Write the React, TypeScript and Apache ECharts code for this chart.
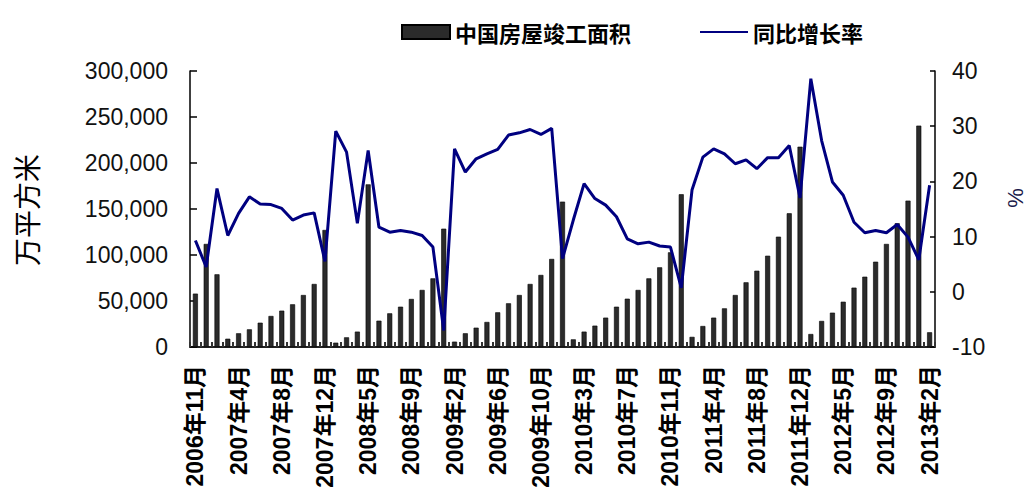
import React, { useEffect, useRef } from 'react';
import * as echarts from 'echarts';

const categories = [
  '2006年11月', '2006年12月',
  '2007年2月', '2007年3月', '2007年4月', '2007年5月', '2007年6月', '2007年7月', '2007年8月', '2007年9月', '2007年10月', '2007年11月', '2007年12月',
  '2008年2月', '2008年3月', '2008年4月', '2008年5月', '2008年6月', '2008年7月', '2008年8月', '2008年9月', '2008年10月', '2008年11月', '2008年12月',
  '2009年2月', '2009年3月', '2009年4月', '2009年5月', '2009年6月', '2009年7月', '2009年8月', '2009年9月', '2009年10月', '2009年11月', '2009年12月',
  '2010年2月', '2010年3月', '2010年4月', '2010年5月', '2010年6月', '2010年7月', '2010年8月', '2010年9月', '2010年10月', '2010年11月', '2010年12月',
  '2011年2月', '2011年3月', '2011年4月', '2011年5月', '2011年6月', '2011年7月', '2011年8月', '2011年9月', '2011年10月', '2011年11月', '2011年12月',
  '2012年2月', '2012年3月', '2012年4月', '2012年5月', '2012年6月', '2012年7月', '2012年8月', '2012年9月', '2012年10月', '2012年11月', '2012年12月',
  '2013年2月',
];

// 中国房屋竣工面积 (万平方米)
const area = [
  58000, 112000,
  79000, 9000, 14900, 19200, 26400, 33700, 39500, 46400, 56500, 68500, 127200,
  4700, 10500, 16700, 176800, 28600, 36600, 43800, 52200, 62000, 74600, 128600,
  5800, 14900, 21000, 27200, 37700, 47500, 56500, 68500, 78300, 95700, 158000,
  8300, 16700, 23200, 31900, 43800, 52500, 62000, 74600, 86600, 102900, 166000,
  11000, 22800, 31900, 42000, 56500, 70300, 82900, 99200, 119900, 145300, 217700,
  14100, 28300, 37300, 49200, 64500, 76400, 92700, 112000, 134500, 159100, 240600,
  16000,
];

// 同比增长率 (%)
const growth = [
  9.3, 4.5,
  18.7, 10.2, 14.2, 17.2, 15.9, 15.8, 15.1, 13.0, 13.9, 14.3, 5.5,
  29.1, 25.3, 12.4, 25.6, 11.7, 10.8, 11.1, 10.8, 10.2, 8.1, -7.0,
  25.9, 21.7, 24.1, 25.0, 25.8, 28.4, 28.8, 29.4, 28.5, 29.6, 6.0,
  13.0, 19.6, 16.9, 15.7, 13.6, 9.6, 8.7, 9.0, 8.3, 8.1, 0.7,
  18.5, 24.4, 25.9, 25.0, 23.2, 23.9, 22.3, 24.3, 24.3, 26.5, 17.0,
  38.6, 27.4, 19.9, 17.5, 12.6, 10.7, 11.1, 10.7, 12.2, 9.9, 5.8,
  19.3,
];

const leftTicks = { min: 0, max: 300000, interval: 50000 };
const rightTicks = { min: -10, max: 40, interval: 10 };

export default function App() {
  const ref = useRef<HTMLDivElement>(null);
  useEffect(() => {
    document.body.style.margin = '0';
    const chart = echarts.init(ref.current as HTMLDivElement, null, { renderer: 'svg' });
    const numFont = 'Liberation Sans, Arial, sans-serif';
    const cjkFont = 'Liberation Sans, Noto Sans CJK SC, sans-serif';
    chart.setOption({
      animation: false,
      backgroundColor: '#ffffff',
      grid: { left: 190, right: 92, top: 71, bottom: 148, containLabel: false },
      legend: {
        left: 396,
        top: 16,
        itemWidth: 48,
        itemHeight: 14,
        itemGap: 68,
        textStyle: { fontSize: 22, fontWeight: 'bold', color: '#000', fontFamily: 'Noto Sans CJK SC, sans-serif' },
        data: [
          { name: '中国房屋竣工面积', icon: 'rect' },
          { name: '同比增长率', itemStyle: { color: 'rgba(0,0,0,0)', borderWidth: 0, opacity: 0 } },
        ],
      },
      xAxis: {
        type: 'category',
        data: categories,
        boundaryGap: true,
        axisLine: { lineStyle: { color: '#222', width: 2 } },
        axisTick: { show: true, inside: true, length: 5, interval: 0, lineStyle: { color: '#333', width: 2 } },
        axisLabel: {
          interval: 3,
          rotate: 90,
          margin: 18,
          fontSize: 23,
          fontWeight: 'bold',
          color: '#000',
          fontFamily: cjkFont,
        },
      },
      yAxis: [
        {
          type: 'value',
          min: leftTicks.min,
          max: leftTicks.max,
          interval: leftTicks.interval,
          axisLine: { show: true, lineStyle: { color: '#000', width: 1.5 } },
          axisTick: { show: true, inside: true, length: 7, lineStyle: { color: '#000', width: 1.5 } },
          splitLine: { show: false },
          axisLabel: {
            margin: 22,
            fontSize: 23,
            color: '#111',
            fontFamily: numFont,
            formatter: (v: number) => v.toLocaleString('en-US'),
          },
        },
        {
          type: 'value',
          position: 'right',
          min: rightTicks.min,
          max: rightTicks.max,
          interval: rightTicks.interval,
          axisLine: { show: true, lineStyle: { color: '#000', width: 1.5 } },
          axisTick: { show: true, inside: true, length: 5, lineStyle: { color: '#000', width: 1.5 } },
          splitLine: { show: false },
          axisLabel: { margin: 17, fontSize: 23, color: '#111', fontFamily: numFont },
        },
      ],
      graphic: [
        {
          type: 'text',
          x: 26,
          y: 210,
          rotation: Math.PI / 2,
          style: {
            text: '万平方米',
            align: 'center',
            verticalAlign: 'middle',
            fontSize: 28,
            fill: '#000',
            fontFamily: 'Noto Sans CJK SC, sans-serif',
          },
        },
        {
          type: 'text',
          x: 1015,
          y: 198,
          rotation: Math.PI / 2,
          style: {
            text: '%',
            align: 'center',
            verticalAlign: 'middle',
            fontSize: 22,
            fill: '#1a1a4a',
            fontFamily: numFont,
          },
        },
      ],
      series: [
        {
          type: 'bar',
          name: '中国房屋竣工面积',
          data: area,
          barWidth: 5,
          itemStyle: { color: '#2b2b2b', borderColor: '#000', borderWidth: 0.6 },
        },
        {
          type: 'line',
          name: '同比增长率',
          yAxisIndex: 1,
          data: growth,
          symbol: 'none',
          lineStyle: { color: '#000080', width: 3 },
          itemStyle: { color: '#000080' },
        },
      ],
    });
    return () => chart.dispose();
  }, []);
  return <div ref={ref} style={{ width: 1027, height: 495 }} />;
}
